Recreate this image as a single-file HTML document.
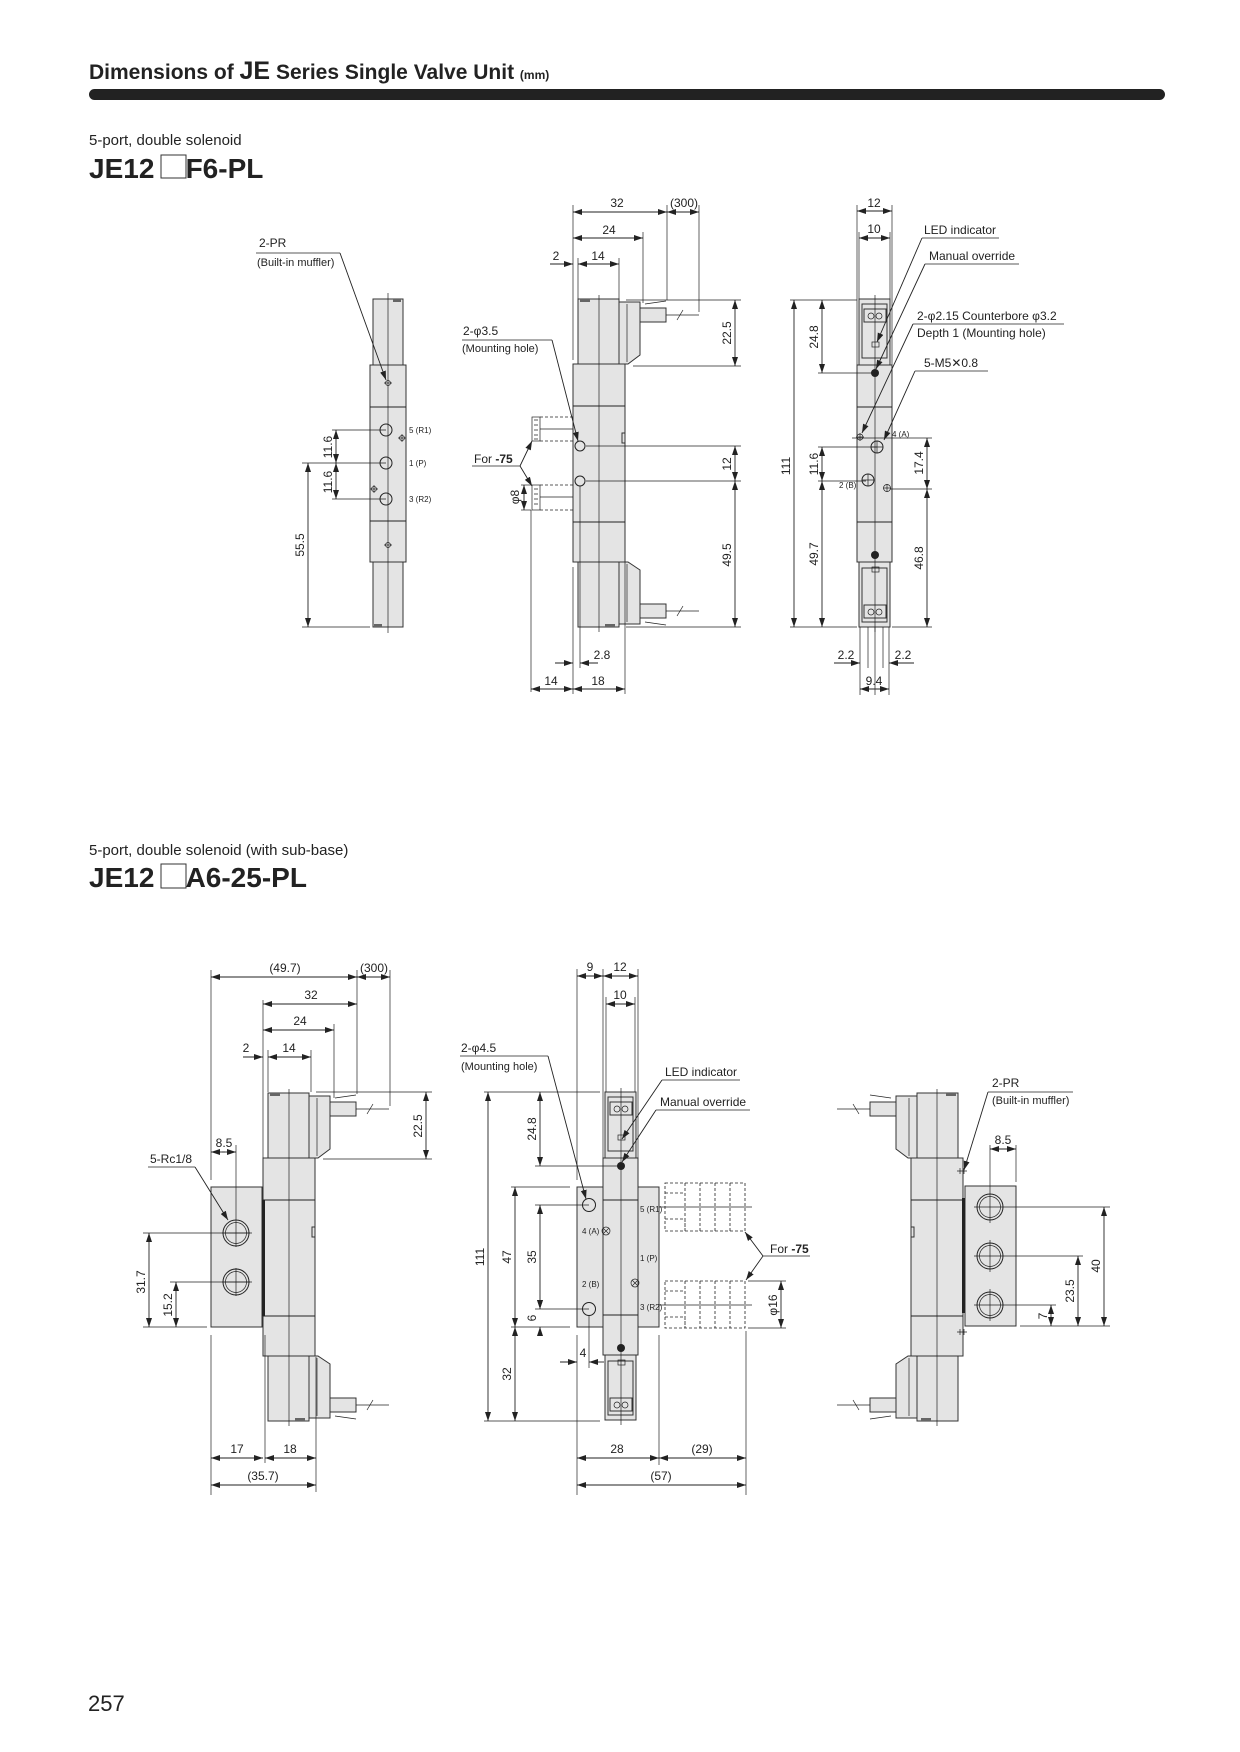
<!DOCTYPE html>
<html><head><meta charset="utf-8"><style>
html,body{margin:0;padding:0;background:#fff;}
svg{display:block;}
text{font-family:"Liberation Sans",Arial,sans-serif;fill:#222;}
.o{stroke:#222;stroke-width:1;fill:none;}
.t{stroke:#222;stroke-width:0.7;fill:none;}
.b{fill:#e4e4e4;stroke:#333;stroke-width:1;}
.d{stroke:#222;stroke-width:0.9;fill:none;marker-start:url(#a);marker-end:url(#a);}
.e{stroke:#222;stroke-width:0.9;fill:none;marker-end:url(#a);}
.x{stroke:#222;stroke-width:0.7;fill:none;}
.dash{stroke:#222;stroke-width:0.8;fill:none;stroke-dasharray:3,2;}
.dt{font-size:12px;}
.lb{font-size:12px;}
.sm{font-size:8px;}
</style></head><body>
<svg width="1240" height="1752" viewBox="0 0 1240 1752" xmlns="http://www.w3.org/2000/svg">
<defs>
<marker id="a" markerUnits="userSpaceOnUse" markerWidth="9" markerHeight="6" refX="9" refY="3" orient="auto-start-reverse"><path d="M0,0 L9,3 L0,6 z" fill="#222"/></marker>

<!-- side view valve (top-middle geometry) -->
<g id="side">
  <rect class="b" x="578" y="299" width="41" height="65"/>
  <rect x="580" y="299" width="10" height="3" fill="#666"/>
  <polygon class="b" points="619,302 640,302 640,355 628,364 619,364"/>
  <line class="t" x1="627" y1="304" x2="627" y2="362"/>
  <rect class="b" x="640" y="308" width="26" height="14"/>
  <line class="t" x1="645" y1="304" x2="666" y2="301"/>
  <line class="t" x1="666" y1="315" x2="699" y2="315"/>
  <line class="t" x1="677" y1="320" x2="683" y2="310"/>
  <rect class="b" x="573" y="364" width="52" height="198"/>
  <line class="o" x1="573" y1="406" x2="625" y2="406"/>
  <line class="o" x1="573" y1="522" x2="625" y2="522"/>
  <rect class="b" x="622" y="433" width="3" height="10"/>
  <rect class="b" x="578" y="562" width="41" height="65"/>
  <rect x="605" y="624" width="10" height="3" fill="#666"/>
  <polygon class="b" points="619,562 628,562 640,570 640,624 619,624"/>
  <line class="t" x1="627" y1="564" x2="627" y2="622"/>
  <rect class="b" x="640" y="604" width="26" height="14"/>
  <line class="t" x1="645" y1="622" x2="666" y2="625"/>
  <line class="t" x1="666" y1="611" x2="699" y2="611"/>
  <line class="t" x1="677" y1="616" x2="683" y2="606"/>
  <line class="x" x1="599" y1="295" x2="599" y2="632"/>
</g>

<!-- front view valve (top-right geometry) -->
<g id="front">
  <rect class="b" x="859" y="299" width="31" height="66"/>
  <rect class="b" x="862" y="304" width="25" height="54"/>
  <rect class="b" x="864" y="309" width="22" height="13"/>
  <circle class="t" cx="871" cy="316" r="3"/><circle class="t" cx="879" cy="316" r="3"/>
  <rect class="t" x="872" y="342" width="7" height="5"/>
  <rect class="b" x="857" y="365" width="35" height="197"/>
  <line class="o" x1="857" y1="407" x2="892" y2="407"/>
  <line class="o" x1="857" y1="522" x2="892" y2="522"/>
  <rect class="b" x="859" y="562" width="31" height="65"/>
  <rect class="b" x="862" y="568" width="25" height="54"/>
  <rect class="b" x="864" y="605" width="22" height="13"/>
  <circle class="t" cx="871" cy="612" r="3"/><circle class="t" cx="879" cy="612" r="3"/>
  <rect class="t" x="872" y="567" width="7" height="5"/>
  <circle cx="875" cy="373" r="4" fill="#222"/>
  <circle cx="875" cy="555" r="4" fill="#222"/>
  <line class="x" x1="875" y1="295" x2="875" y2="632"/>
</g>
</defs>

<!-- Header -->
<text x="89" y="79" style="font-size:21px;font-weight:bold">Dimensions of <tspan style="font-size:25px">JE</tspan> Series Single Valve Unit <tspan style="font-size:12px">(mm)</tspan></text>
<rect x="89" y="89" width="1076" height="11" rx="5.5" fill="#222"/>

<text x="89" y="145" style="font-size:15px">5-port, double solenoid</text>
<text x="89" y="178" style="font-size:28px;font-weight:bold">JE12<tspan fill="#fff">__</tspan>F6-PL</text>
<rect x="161" y="155" width="25" height="23" fill="#fff" stroke="#333" stroke-width="1"/>

<!-- ===== TOP LEFT ===== -->
<rect class="b" x="373" y="299" width="30" height="66"/>
<rect class="b" x="370" y="365" width="36" height="197"/>
<line class="o" x1="370" y1="407" x2="406" y2="407"/>
<line class="o" x1="370" y1="521" x2="406" y2="521"/>
<rect class="b" x="373" y="562" width="30" height="65"/>
<rect x="393" y="299" width="8" height="3" fill="#666"/>
<rect x="374" y="624" width="8" height="3" fill="#666"/>
<line class="x" x1="388" y1="293" x2="388" y2="633"/>
<circle class="o" cx="386" cy="430" r="6" stroke-width="1.5"/>
<circle class="o" cx="386" cy="463" r="6" stroke-width="1.5"/>
<circle class="o" cx="386" cy="499" r="6" stroke-width="1.5"/>
<g class="t"><circle cx="388" cy="383" r="2.5"/><circle cx="402" cy="438" r="2.5"/><circle cx="374" cy="489" r="2.5"/><circle cx="388" cy="545" r="2.5"/>
<path d="M384,383h8M398,438h8M402,434v8M370,489h8M374,485v8M384,545h8"/></g>
<text class="sm" x="409" y="433">5 (R1)</text>
<text class="sm" x="409" y="466">1 (P)</text>
<text class="sm" x="409" y="502">3 (R2)</text>
<line class="x" x1="332" y1="430" x2="386" y2="430"/>
<line class="x" x1="302" y1="463" x2="386" y2="463"/>
<line class="x" x1="332" y1="499" x2="386" y2="499"/>
<line class="x" x1="302" y1="627" x2="370" y2="627"/>
<line class="d" x1="336" y1="430" x2="336" y2="463"/>
<line class="d" x1="336" y1="463" x2="336" y2="499"/>
<line class="d" x1="308" y1="463" x2="308" y2="627"/>
<text class="dt" transform="translate(332,447) rotate(-90)" text-anchor="middle">11.6</text>
<text class="dt" transform="translate(332,482) rotate(-90)" text-anchor="middle">11.6</text>
<text class="dt" transform="translate(304,545) rotate(-90)" text-anchor="middle">55.5</text>
<text class="lb" x="259" y="247">2-PR</text>
<line class="x" x1="256" y1="253" x2="340" y2="253"/>
<text class="lb" x="257" y="266" style="font-size:11px">(Built-in muffler)</text>
<line class="e" x1="340" y1="253" x2="386" y2="380"/>

<!-- ===== TOP MIDDLE ===== -->
<use href="#side"/>
<circle class="o" cx="580" cy="446" r="5"/><circle class="o" cx="580" cy="481" r="5"/>
<line class="x" x1="573" y1="205" x2="573" y2="360"/>
<line class="x" x1="578" y1="258" x2="578" y2="299"/>
<line class="x" x1="619" y1="258" x2="619" y2="299"/>
<line class="x" x1="643" y1="232" x2="643" y2="303"/>
<line class="x" x1="667" y1="205" x2="667" y2="300"/>
<line class="x" x1="699" y1="205" x2="699" y2="312"/>
<line class="d" x1="573" y1="212" x2="667" y2="212"/>
<line class="d" x1="667" y1="212" x2="699" y2="212"/>
<line class="d" x1="573" y1="238" x2="643" y2="238"/>
<line class="e" x1="550" y1="264" x2="573" y2="264"/>
<line class="d" x1="578" y1="264" x2="619" y2="264"/>
<text class="dt" x="617" y="207" text-anchor="middle">32</text>
<text class="dt" x="684" y="207" text-anchor="middle">(300)</text>
<text class="dt" x="609" y="234" text-anchor="middle">24</text>
<text class="dt" x="556" y="260" text-anchor="middle">2</text>
<text class="dt" x="598" y="260" text-anchor="middle">14</text>
<line class="x" x1="626" y1="300" x2="741" y2="300"/>
<line class="x" x1="633" y1="366" x2="741" y2="366"/>
<line class="x" x1="586" y1="446" x2="741" y2="446"/>
<line class="x" x1="586" y1="481" x2="741" y2="481"/>
<line class="x" x1="626" y1="627" x2="741" y2="627"/>
<line class="d" x1="735" y1="300" x2="735" y2="366"/>
<line class="d" x1="735" y1="446" x2="735" y2="481"/>
<line class="d" x1="735" y1="481" x2="735" y2="627"/>
<text class="dt" transform="translate(731,333) rotate(-90)" text-anchor="middle">22.5</text>
<text class="dt" transform="translate(731,464) rotate(-90)" text-anchor="middle">12</text>
<text class="dt" transform="translate(731,555) rotate(-90)" text-anchor="middle">49.5</text>
<!-- fittings -->
<g class="dash"><path d="M540,417H573M540,441H573M540,485H573M540,510H573"/></g>
<line class="x" x1="540" y1="429" x2="573" y2="429"/><line class="x" x1="540" y1="497" x2="573" y2="497"/>
<rect class="t" x="532" y="417" width="8" height="24"/><rect class="t" x="532" y="485" width="8" height="25"/>
<path class="t" d="M534,420h4M534,425h4M534,430h4M534,435h4M534,439h4M534,489h4M534,494h4M534,499h4M534,504h4"/>
<line class="x" x1="531" y1="510" x2="531" y2="692"/>
<line class="x" x1="521" y1="485" x2="531" y2="485"/><line class="x" x1="521" y1="510" x2="531" y2="510"/>
<line class="d" x1="524" y1="485" x2="524" y2="510"/>
<text class="dt" transform="translate(519,497) rotate(-90)" text-anchor="middle">φ8</text>
<text class="lb" x="474" y="463">For <tspan font-weight="bold">-75</tspan></text>
<line class="x" x1="472" y1="466" x2="520" y2="466"/>
<line class="e" x1="520" y1="466" x2="532" y2="441"/>
<line class="e" x1="520" y1="466" x2="532" y2="486"/>
<text class="lb" x="463" y="335">2-φ3.5</text>
<line class="x" x1="462" y1="340" x2="552" y2="340"/>
<text class="lb" x="462" y="352" style="font-size:11px">(Mounting hole)</text>
<line class="e" x1="552" y1="340" x2="578" y2="441"/>
<line class="x" x1="573" y1="567" x2="573" y2="694"/>
<line class="x" x1="580" y1="486" x2="580" y2="668"/>
<line class="x" x1="625" y1="562" x2="625" y2="694"/>
<line class="e" x1="555" y1="663" x2="573" y2="663"/>
<line class="e" x1="598" y1="663" x2="580" y2="663"/>
<text class="dt" x="602" y="659" text-anchor="middle">2.8</text>
<line class="d" x1="531" y1="689" x2="573" y2="689"/>
<line class="d" x1="573" y1="689" x2="625" y2="689"/>
<text class="dt" x="551" y="685" text-anchor="middle">14</text>
<text class="dt" x="598" y="685" text-anchor="middle">18</text>

<!-- ===== TOP RIGHT ===== -->
<use href="#front"/>
<circle class="o" cx="877" cy="447" r="6" stroke-width="1.3"/>
<circle class="o" cx="868" cy="480" r="6" stroke-width="1.3"/>
<circle class="t" cx="887" cy="488" r="3.5"/><circle class="t" cx="860" cy="437" r="3"/>
<path class="t" d="M883,488h8M887,484v8M856,437h8M860,433v8M871,447h12M877,441v12M862,480h12M868,474v12"/>
<text class="sm" x="892" y="437">4 (A)</text>
<text class="sm" x="839" y="488">2 (B)</text>
<line class="x" x1="857" y1="205" x2="857" y2="365"/>
<line class="x" x1="892" y1="205" x2="892" y2="365"/>
<line class="x" x1="859" y1="232" x2="859" y2="299"/>
<line class="x" x1="890" y1="232" x2="890" y2="299"/>
<line class="d" x1="857" y1="211" x2="892" y2="211"/>
<line class="d" x1="859" y1="238" x2="890" y2="238"/>
<text class="dt" x="874" y="207" text-anchor="middle">12</text>
<text class="dt" x="874" y="233" text-anchor="middle">10</text>
<line class="x" x1="790" y1="300" x2="857" y2="300"/>
<line class="x" x1="818" y1="373" x2="875" y2="373"/>
<line class="x" x1="818" y1="447" x2="877" y2="447"/>
<line class="x" x1="818" y1="481" x2="866" y2="481"/>
<line class="x" x1="790" y1="627" x2="857" y2="627"/>
<line class="x" x1="852" y1="438" x2="932" y2="438"/>
<line class="x" x1="890" y1="489" x2="932" y2="489"/>
<line class="x" x1="892" y1="627" x2="932" y2="627"/>
<line class="d" x1="794" y1="300" x2="794" y2="627"/>
<line class="d" x1="822" y1="300" x2="822" y2="373"/>
<line class="d" x1="822" y1="447" x2="822" y2="481"/>
<line class="d" x1="822" y1="481" x2="822" y2="627"/>
<line class="d" x1="927" y1="438" x2="927" y2="489"/>
<line class="d" x1="927" y1="489" x2="927" y2="627"/>
<text class="dt" transform="translate(790,466) rotate(-90)" text-anchor="middle">111</text>
<text class="dt" transform="translate(818,337) rotate(-90)" text-anchor="middle">24.8</text>
<text class="dt" transform="translate(818,464) rotate(-90)" text-anchor="middle">11.6</text>
<text class="dt" transform="translate(818,554) rotate(-90)" text-anchor="middle">49.7</text>
<text class="dt" transform="translate(923,463) rotate(-90)" text-anchor="middle">17.4</text>
<text class="dt" transform="translate(923,558) rotate(-90)" text-anchor="middle">46.8</text>
<path class="x" d="M860,627V695M868,627V668M875,627V695M883,627V668M889,627V695"/>
<line class="e" x1="834" y1="663" x2="860" y2="663"/>
<line class="e" x1="914" y1="663" x2="889" y2="663"/>
<text class="dt" x="846" y="659" text-anchor="middle">2.2</text>
<text class="dt" x="903" y="659" text-anchor="middle">2.2</text>
<line class="d" x1="860" y1="689" x2="889" y2="689"/>
<text class="dt" x="874" y="685" text-anchor="middle">9.4</text>
<text class="lb" x="924" y="234">LED indicator</text>
<line class="x" x1="922" y1="238" x2="999" y2="238"/>
<line class="e" x1="922" y1="238" x2="877" y2="342"/>
<text class="lb" x="929" y="260">Manual override</text>
<line class="x" x1="925" y1="264" x2="1019" y2="264"/>
<line class="e" x1="925" y1="264" x2="876" y2="369"/>
<text class="lb" x="917" y="320">2-φ2.15 Counterbore φ3.2</text>
<line class="x" x1="913" y1="324" x2="1064" y2="324"/>
<text class="lb" x="917" y="337">Depth 1 (Mounting hole)</text>
<line class="e" x1="913" y1="324" x2="862" y2="433"/>
<text class="lb" x="924" y="367">5-M5✕0.8</text>
<line class="x" x1="915" y1="371" x2="988" y2="371"/>
<line class="e" x1="915" y1="371" x2="884" y2="440"/>

<!-- Second heading -->
<text x="89" y="855" style="font-size:15px">5-port, double solenoid (with sub-base)</text>
<text x="89" y="887" style="font-size:28px;font-weight:bold">JE12<tspan fill="#fff">__</tspan>A6-25-PL</text>
<rect x="161" y="864" width="25" height="24" fill="#fff" stroke="#333" stroke-width="1"/>

<!-- ===== BOTTOM LEFT ===== -->
<rect class="b" x="211" y="1187" width="51" height="140"/>
<g transform="translate(-310,794)"><use href="#side"/></g>
<rect x="262" y="1200" width="3" height="116" fill="#222"/>
<circle class="o" cx="236" cy="1233" r="13" stroke-width="1.3"/><circle class="t" cx="236" cy="1233" r="10.5"/>
<circle class="o" cx="236" cy="1282" r="13" stroke-width="1.3"/><circle class="t" cx="236" cy="1282" r="10.5"/>
<path class="t" d="M222,1233h30M236,1219v28M222,1282h30M236,1268v28"/>
<line class="x" x1="211" y1="970" x2="211" y2="1180"/>
<line class="x" x1="211" y1="1335" x2="211" y2="1495"/>
<line class="x" x1="263" y1="1000" x2="263" y2="1158"/>
<line class="x" x1="265" y1="1335" x2="265" y2="1463"/>
<line class="x" x1="268" y1="1050" x2="268" y2="1092"/>
<line class="x" x1="311" y1="1050" x2="311" y2="1092"/>
<line class="x" x1="334" y1="1024" x2="334" y2="1098"/>
<line class="x" x1="357" y1="970" x2="357" y2="1094"/>
<line class="x" x1="390" y1="970" x2="390" y2="1106"/>
<line class="x" x1="316" y1="1357" x2="316" y2="1492"/>
<line class="d" x1="211" y1="977" x2="357" y2="977"/>
<line class="d" x1="357" y1="977" x2="390" y2="977"/>
<line class="d" x1="263" y1="1004" x2="357" y2="1004"/>
<line class="d" x1="263" y1="1030" x2="334" y2="1030"/>
<line class="e" x1="243" y1="1057" x2="263" y2="1057"/>
<line class="d" x1="268" y1="1057" x2="311" y2="1057"/>
<text class="dt" x="285" y="972" text-anchor="middle">(49.7)</text>
<text class="dt" x="374" y="972" text-anchor="middle">(300)</text>
<text class="dt" x="311" y="999" text-anchor="middle">32</text>
<text class="dt" x="300" y="1025" text-anchor="middle">24</text>
<text class="dt" x="246" y="1052" text-anchor="middle">2</text>
<text class="dt" x="289" y="1052" text-anchor="middle">14</text>
<line class="x" x1="316" y1="1092" x2="432" y2="1092"/>
<line class="x" x1="323" y1="1159" x2="432" y2="1159"/>
<line class="d" x1="426" y1="1092" x2="426" y2="1159"/>
<text class="dt" transform="translate(422,1126) rotate(-90)" text-anchor="middle">22.5</text>
<line class="x" x1="236" y1="1145" x2="236" y2="1219"/>
<line class="e" x1="225" y1="1152" x2="211" y2="1152"/>
<line class="e" x1="222" y1="1152" x2="236" y2="1152"/>
<text class="dt" x="224" y="1147" text-anchor="middle">8.5</text>
<text class="lb" x="150" y="1163">5-Rc1/8</text>
<line class="x" x1="148" y1="1167" x2="195" y2="1167"/>
<line class="e" x1="195" y1="1167" x2="228" y2="1220"/>
<line class="x" x1="143" y1="1233" x2="250" y2="1233"/>
<line class="x" x1="170" y1="1282" x2="250" y2="1282"/>
<line class="x" x1="143" y1="1327" x2="207" y2="1327"/>
<line class="d" x1="149" y1="1233" x2="149" y2="1327"/>
<line class="d" x1="176" y1="1282" x2="176" y2="1327"/>
<text class="dt" transform="translate(145,1282) rotate(-90)" text-anchor="middle">31.7</text>
<text class="dt" transform="translate(172,1305) rotate(-90)" text-anchor="middle">15.2</text>
<line class="d" x1="211" y1="1458" x2="263" y2="1458"/>
<line class="d" x1="265" y1="1458" x2="316" y2="1458"/>
<line class="d" x1="211" y1="1485" x2="316" y2="1485"/>
<text class="dt" x="237" y="1453" text-anchor="middle">17</text>
<text class="dt" x="290" y="1453" text-anchor="middle">18</text>
<text class="dt" x="263" y="1480" text-anchor="middle">(35.7)</text>

<!-- ===== BOTTOM MIDDLE ===== -->
<rect class="b" x="577" y="1187" width="82" height="140"/>
<g transform="translate(-254,793)"><use href="#front"/></g>
<line class="o" x1="603" y1="1200" x2="638" y2="1200"/>
<circle class="o" cx="589" cy="1205" r="6.5"/><circle class="o" cx="589" cy="1309" r="6.5"/>
<circle class="t" cx="606" cy="1231" r="4"/><circle class="t" cx="635" cy="1283" r="4"/>
<path class="t" d="M603,1228l6,6M609,1228l-6,6M632,1280l6,6M638,1280l-6,6"/>
<text class="sm" x="640" y="1212">5 (R1)</text>
<text class="sm" x="582" y="1234">4 (A)</text>
<text class="sm" x="640" y="1261">1 (P)</text>
<text class="sm" x="582" y="1287">2 (B)</text>
<text class="sm" x="640" y="1310">3 (R2)</text>
<line class="x" x1="577" y1="969" x2="577" y2="1180"/>
<line class="x" x1="603" y1="969" x2="603" y2="1158"/>
<line class="x" x1="638" y1="969" x2="638" y2="1158"/>
<line class="x" x1="606" y1="997" x2="606" y2="1092"/>
<line class="x" x1="635" y1="997" x2="635" y2="1092"/>
<line class="d" x1="577" y1="976" x2="603" y2="976"/>
<line class="d" x1="603" y1="976" x2="638" y2="976"/>
<line class="d" x1="606" y1="1004" x2="635" y2="1004"/>
<text class="dt" x="590" y="971" text-anchor="middle">9</text>
<text class="dt" x="620" y="971" text-anchor="middle">12</text>
<text class="dt" x="620" y="999" text-anchor="middle">10</text>
<line class="x" x1="484" y1="1092" x2="600" y2="1092"/>
<line class="x" x1="535" y1="1166" x2="621" y2="1166"/>
<line class="x" x1="511" y1="1187" x2="570" y2="1187"/>
<line class="x" x1="535" y1="1205" x2="589" y2="1205"/>
<line class="x" x1="535" y1="1309" x2="589" y2="1309"/>
<line class="x" x1="511" y1="1327" x2="570" y2="1327"/>
<line class="x" x1="484" y1="1421" x2="600" y2="1421"/>
<line class="d" x1="488" y1="1092" x2="488" y2="1421"/>
<line class="d" x1="540" y1="1092" x2="540" y2="1166"/>
<line class="d" x1="515" y1="1187" x2="515" y2="1327"/>
<line class="d" x1="540" y1="1205" x2="540" y2="1309"/>
<line class="e" x1="540" y1="1300" x2="540" y2="1309"/>
<line class="e" x1="540" y1="1336" x2="540" y2="1327"/>
<line class="d" x1="515" y1="1327" x2="515" y2="1421"/>
<text class="dt" transform="translate(484,1257) rotate(-90)" text-anchor="middle">111</text>
<text class="dt" transform="translate(536,1129) rotate(-90)" text-anchor="middle">24.8</text>
<text class="dt" transform="translate(511,1257) rotate(-90)" text-anchor="middle">47</text>
<text class="dt" transform="translate(536,1257) rotate(-90)" text-anchor="middle">35</text>
<text class="dt" transform="translate(536,1318) rotate(-90)" text-anchor="middle">6</text>
<text class="dt" transform="translate(511,1374) rotate(-90)" text-anchor="middle">32</text>
<line class="x" x1="577" y1="1335" x2="577" y2="1495"/>
<line class="x" x1="589" y1="1315" x2="589" y2="1368"/>
<line class="e" x1="560" y1="1362" x2="577" y2="1362"/>
<line class="e" x1="604" y1="1362" x2="589" y2="1362"/>
<text class="dt" x="583" y="1357" text-anchor="middle">4</text>
<line class="x" x1="659" y1="1335" x2="659" y2="1465"/>
<line class="x" x1="746" y1="1331" x2="746" y2="1495"/>
<line class="d" x1="577" y1="1458" x2="659" y2="1458"/>
<line class="d" x1="659" y1="1458" x2="746" y2="1458"/>
<line class="d" x1="577" y1="1485" x2="746" y2="1485"/>
<text class="dt" x="617" y="1453" text-anchor="middle">28</text>
<text class="dt" x="702" y="1453" text-anchor="middle">(29)</text>
<text class="dt" x="661" y="1480" text-anchor="middle">(57)</text>
<text class="lb" x="461" y="1052">2-φ4.5</text>
<line class="x" x1="460" y1="1056" x2="548" y2="1056"/>
<text class="lb" x="461" y="1070" style="font-size:11px">(Mounting hole)</text>
<line class="e" x1="548" y1="1056" x2="586" y2="1199"/>
<text class="lb" x="665" y="1076">LED indicator</text>
<line class="x" x1="662" y1="1080" x2="740" y2="1080"/>
<line class="e" x1="662" y1="1080" x2="622" y2="1139"/>
<text class="lb" x="660" y="1106">Manual override</text>
<line class="x" x1="656" y1="1110" x2="750" y2="1110"/>
<line class="e" x1="656" y1="1110" x2="622" y2="1162"/>
<!-- fittings -->
<g class="dash">
<rect x="665" y="1183" width="80" height="48"/><rect x="665" y="1281" width="80" height="47"/>
<path d="M665,1193h20v12M665,1219h20v12M685,1183v48M700,1183v48M715,1183v48M730,1183v48M665,1291h20v12M665,1317h20v11M685,1281v47M700,1281v47M715,1281v47M730,1281v47"/>
</g>
<line class="x" x1="659" y1="1207" x2="752" y2="1207"/>
<line class="x" x1="659" y1="1305" x2="752" y2="1305"/>
<line class="x" x1="748" y1="1281" x2="786" y2="1281"/>
<line class="x" x1="748" y1="1328" x2="786" y2="1328"/>
<line class="d" x1="781" y1="1281" x2="781" y2="1328"/>
<text class="dt" transform="translate(777,1305) rotate(-90)" text-anchor="middle">φ16</text>
<text class="lb" x="770" y="1253">For <tspan font-weight="bold">-75</tspan></text>
<line class="x" x1="763" y1="1256" x2="810" y2="1256"/>
<line class="e" x1="763" y1="1256" x2="745" y2="1232"/>
<line class="e" x1="763" y1="1256" x2="746" y2="1280"/>

<!-- ===== BOTTOM RIGHT ===== -->
<rect class="b" x="965" y="1186" width="51" height="140"/>
<g transform="translate(1536,794) scale(-1,1)"><use href="#side"/></g>
<rect x="962" y="1198" width="3" height="115" fill="#222"/>
<path class="t" d="M960,1168v6M964,1168v6M957,1171h10M960,1329v6M964,1329v6M957,1332h10"/>
<circle class="o" cx="990" cy="1207" r="13" stroke-width="1.3"/><circle class="t" cx="990" cy="1207" r="10.5"/>
<circle class="o" cx="990" cy="1256" r="13" stroke-width="1.3"/><circle class="t" cx="990" cy="1256" r="10.5"/>
<circle class="o" cx="990" cy="1305" r="13" stroke-width="1.3"/><circle class="t" cx="990" cy="1305" r="10.5"/>
<path class="t" d="M974,1207h16M990,1191v32M974,1256h16M990,1240v32M974,1305h16M990,1289v32"/>
<line class="x" x1="990" y1="1207" x2="1110" y2="1207"/>
<line class="x" x1="990" y1="1256" x2="1083" y2="1256"/>
<line class="x" x1="990" y1="1305" x2="1056" y2="1305"/>
<line class="x" x1="1020" y1="1326" x2="1110" y2="1326"/>
<line class="d" x1="1104" y1="1207" x2="1104" y2="1326"/>
<line class="d" x1="1078" y1="1256" x2="1078" y2="1326"/>
<line class="d" x1="1051" y1="1305" x2="1051" y2="1326"/>
<text class="dt" transform="translate(1100,1266) rotate(-90)" text-anchor="middle">40</text>
<text class="dt" transform="translate(1074,1291) rotate(-90)" text-anchor="middle">23.5</text>
<text class="dt" transform="translate(1047,1316) rotate(-90)" text-anchor="middle">7</text>
<line class="x" x1="990" y1="1145" x2="990" y2="1191"/>
<line class="x" x1="1016" y1="1145" x2="1016" y2="1182"/>
<line class="d" x1="990" y1="1149" x2="1016" y2="1149"/>
<text class="dt" x="1003" y="1144" text-anchor="middle">8.5</text>
<text class="lb" x="992" y="1087">2-PR</text>
<line class="x" x1="988" y1="1092" x2="1073" y2="1092"/>
<text class="lb" x="992" y="1104" style="font-size:11px">(Built-in muffler)</text>
<line class="e" x1="988" y1="1092" x2="964" y2="1170"/>

<!-- page number -->
<text x="88" y="1711" style="font-size:22px">257</text>
</svg>
</body></html>
